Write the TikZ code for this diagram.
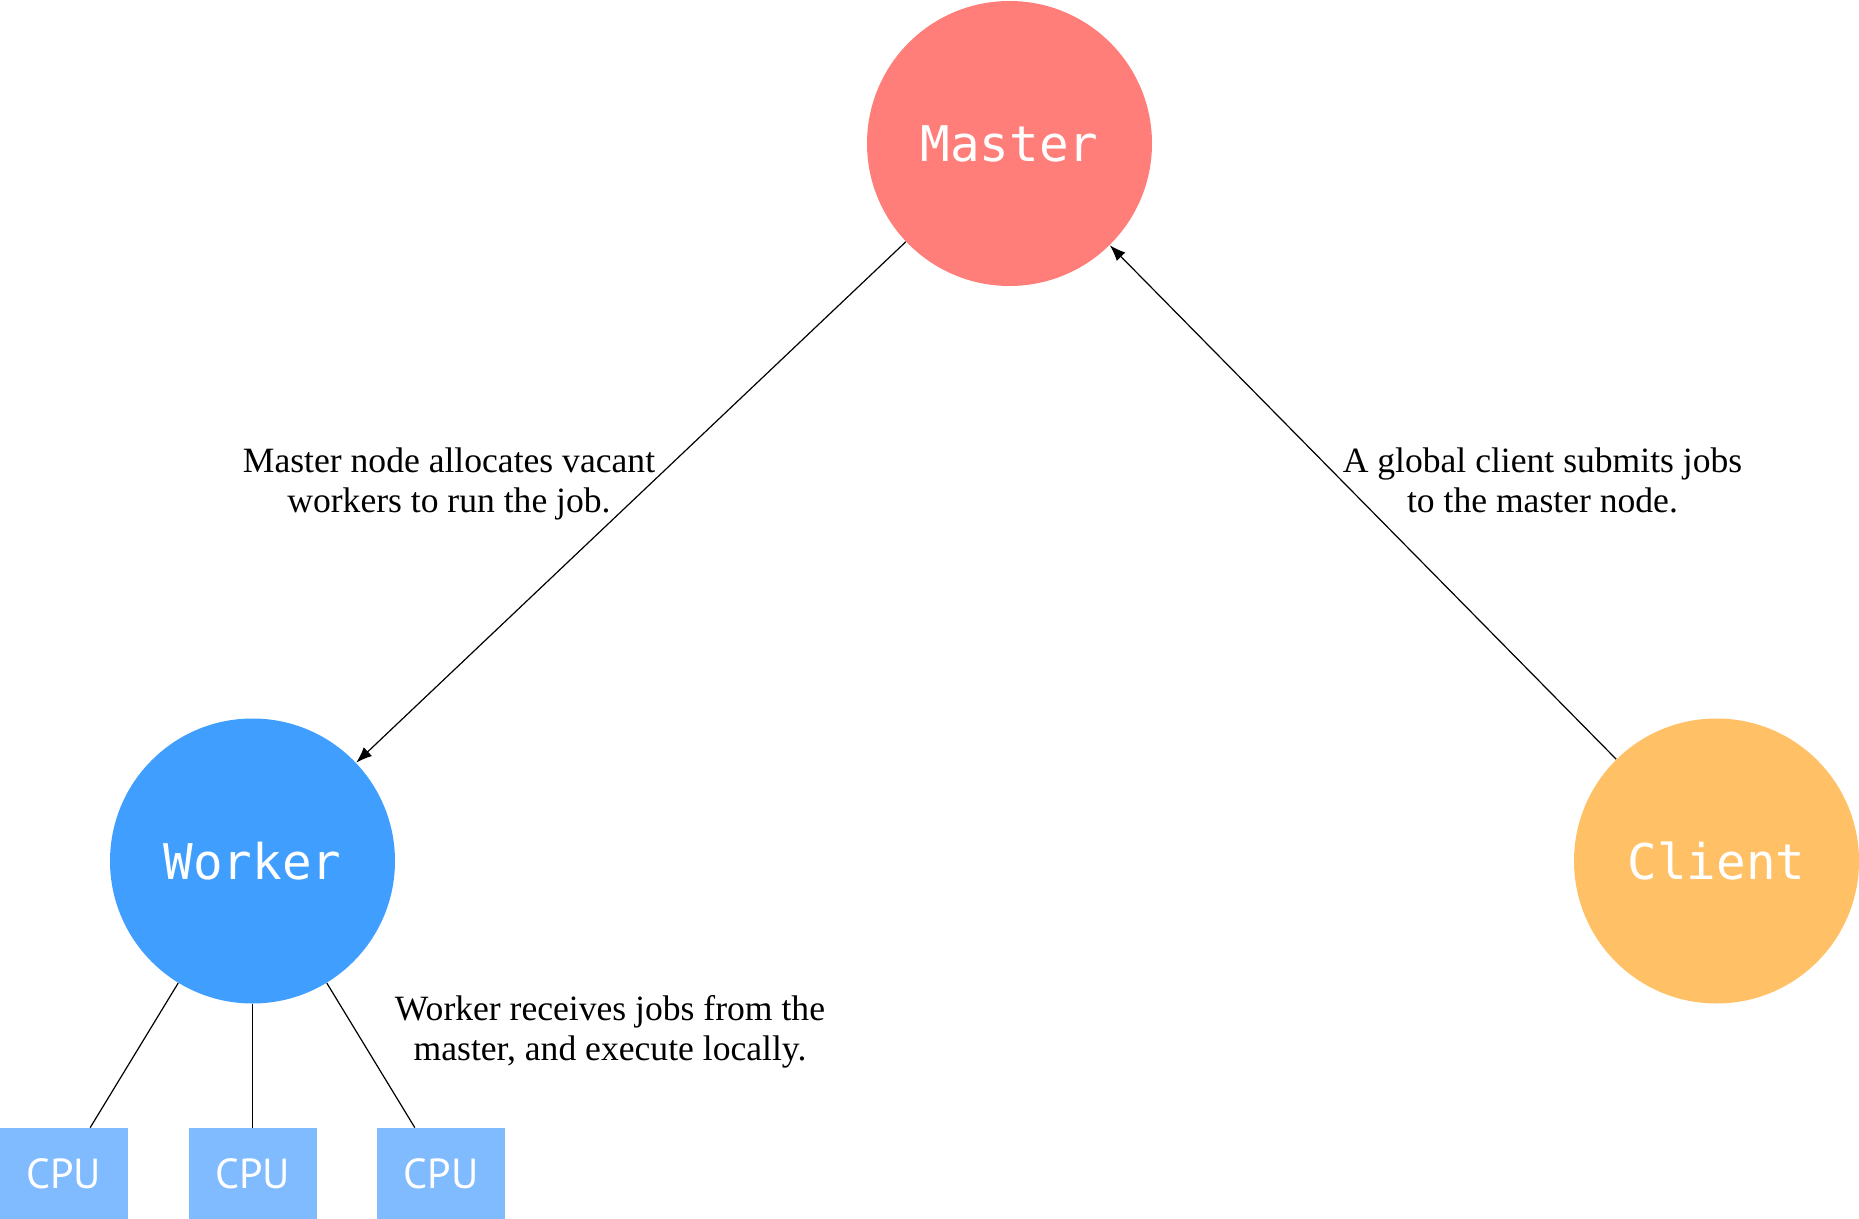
\documentclass[tikz,border=0pt]{standalone}
\usepackage{fontspec}
\usepackage{xcolor}
\usetikzlibrary{arrows.meta, positioning}
\setmainfont{Liberation Serif}
\newfontfamily\monofont{DejaVu Sans Mono}
\newfontfamily\cpufont{PT Sans}
\definecolor{masterred}{RGB}{255, 126, 121}
\definecolor{workerblue}{RGB}{64, 158, 255}
\definecolor{clientorange}{RGB}{255, 192, 102}
\definecolor{cpublue}{RGB}{128, 186, 255}
\tikzstyle{hub} = [circle, minimum size=142.5pt, inner sep=0pt, text=white, font=\monofont\fontsize{24.6}{28}\selectfont]
\tikzstyle{cpubox} = [rectangle, minimum width=64pt, minimum height=45.5pt, inner sep=0pt, text=white, fill=cpublue, font=\cpufont\fontsize{21}{24}\selectfont]
\tikzstyle{note} = [align=center, inner sep=0pt, anchor=north, font=\fontsize{17.8}{20.2}\selectfont]
\tikzstyle{arrow} = [line width=0.6pt, -{Latex[length=8pt, width=6pt]}]
\tikzstyle{link} = [line width=0.6pt]

\begin{document}
\begin{tikzpicture}[x=0.5pt, y=-0.5pt, node distance=30pt]
\useasboundingbox (0,0) rectangle (1859,1219);

% Main nodes
\node (master) [hub, fill=masterred] at (1009.5,143.5) {Master};
\node (worker) [hub, fill=workerblue] at (252.5,861) {Worker};
\node (client) [hub, fill=clientorange] at (1716.5,861) {Client};

% CPUs of the worker
\node (cpu2) [cpubox] at (252.5,1173.5) {CPU};
\node (cpu1) [cpubox, left=of cpu2] {CPU};
\node (cpu3) [cpubox, right=of cpu2] {CPU};

% Notes
\node (allocnote) [note] at (449,447) {Master node allocates vacant\\workers to run the job.};
\node (submitnote) [note] at (1542.5,447) {A global client submits jobs\\to the master node.};
\node (execnote) [note] at (610,995) {Worker receives jobs from the\\master, and execute locally.};

% Arrows
\draw [arrow] (master) -- (worker);
\draw [arrow] (client) -- (master);

% Worker to CPU links
\draw [link] (worker) -- (cpu1.60);
\draw [link] (worker) -- (cpu2);
\draw [link] (worker) -- (cpu3.120);

\end{tikzpicture}
\end{document}
